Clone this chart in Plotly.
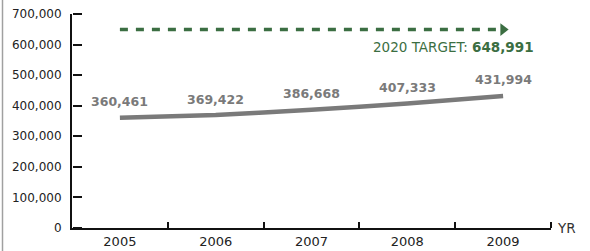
import plotly.graph_objects as go

years = [2005, 2006, 2007, 2008, 2009]
values = [360461, 369422, 386668, 407333, 431994]
target_value = 648991
target_label = "2020 TARGET: "
y_ticks = [0, 100000, 200000, 300000, 400000, 500000, 600000, 700000]
x_axis_title = "YR"

GREEN = "#3b6e42"
GRAY = "#7a7a7a"
FONT = "'DejaVu Sans', sans-serif"

fig = go.Figure()

# target dashed line with arrow head
fig.add_trace(go.Scatter(
    x=[years[0], years[-1]], y=[target_value, target_value],
    mode="lines", line=dict(color=GREEN, width=3.5, dash="8px,8px"),
    hoverinfo="skip", showlegend=False))
fig.add_trace(go.Scatter(
    x=[years[-1]], y=[target_value], mode="markers",
    marker=dict(symbol="triangle-right", size=11, color=GREEN),
    hoverinfo="skip", showlegend=False))

# actual values
fig.add_trace(go.Scatter(
    x=years, y=values, mode="lines",
    line=dict(color=GRAY, width=4.5, shape="spline", smoothing=0.5),
    hoverinfo="skip", showlegend=False))

# invisible trace to carry the tick-mark axis (ticks pointing into the plot)
fig.add_trace(go.Scatter(
    x=[years[0]], y=[values[0]], yaxis="y2", mode="markers",
    marker=dict(opacity=0), hoverinfo="skip", showlegend=False))

annotations = []
for xv, yv in zip(years, values):
    annotations.append(dict(
        x=xv, y=yv, xref="x", yref="y", text=f"<b>{yv:,}</b>", showarrow=False,
        yshift=16, font=dict(family=FONT, size=12.5, color=GRAY)))

annotations.append(dict(
    x=years[-1], y=target_value, xref="x", yref="y",
    text=f"{target_label}<b>{target_value:,}</b>", showarrow=False,
    xanchor="right", yanchor="middle", xshift=33, yshift=-17,
    font=dict(family=FONT, size=13.5, color=GREEN)))

annotations.append(dict(
    x=1, y=0, xref="paper", yref="y", text=x_axis_title, showarrow=False,
    xanchor="left", yanchor="middle", xshift=4,
    font=dict(family=FONT, size=13.5, color="#333")))

fig.update_layout(
    width=590, height=251,
    margin=dict(l=72, r=39, t=14, b=23, autoexpand=False),
    paper_bgcolor="white", plot_bgcolor="white",
    annotations=annotations,
    shapes=[dict(type="line", xref="paper", yref="paper",
                 x0=-69.5 / 479, x1=-69.5 / 479, y0=-23 / 214, y1=1 + 14 / 214,
                 line=dict(color="#a0a0a0", width=1.5))],
    yaxis2=dict(
        overlaying="y", anchor="free", position=0, side="right",
        range=[0, 700000], tickvals=y_ticks, showticklabels=False,
        ticks="outside", ticklen=9, tickwidth=1.5, tickcolor="#111",
        showgrid=False, zeroline=False, showline=False, automargin=False),
)

fig.update_xaxes(
    range=[years[0] - 0.5, years[-1] + 0.5],
    tickvals=years, ticktext=[str(y) for y in years],
    ticks="", showgrid=False, zeroline=False, automargin=False,
    showline=True, linecolor="#111", linewidth=2,
    tickfont=dict(family=FONT, size=13, color="#222"),
    minor=dict(tickvals=[y + 0.5 for y in years], ticks="inside",
               ticklen=6, tickwidth=1.5, tickcolor="#111", showgrid=False),
)
fig.update_yaxes(
    selector=dict(overlaying=None),
    range=[0, 700000], tickvals=y_ticks,
    ticktext=[f"{v:,}" for v in y_ticks],
    ticks="", showgrid=False, zeroline=False, automargin=False,
    showline=True, linecolor="#111", linewidth=2,
    tickfont=dict(family=FONT, size=12, color="#222"),
    ticklabelstandoff=6,
)

fig.write_html(
    "out.html",
    config={"displayModeBar": False},
    post_script="document.body.style.margin='0';document.body.style.overflow='hidden';",
)
